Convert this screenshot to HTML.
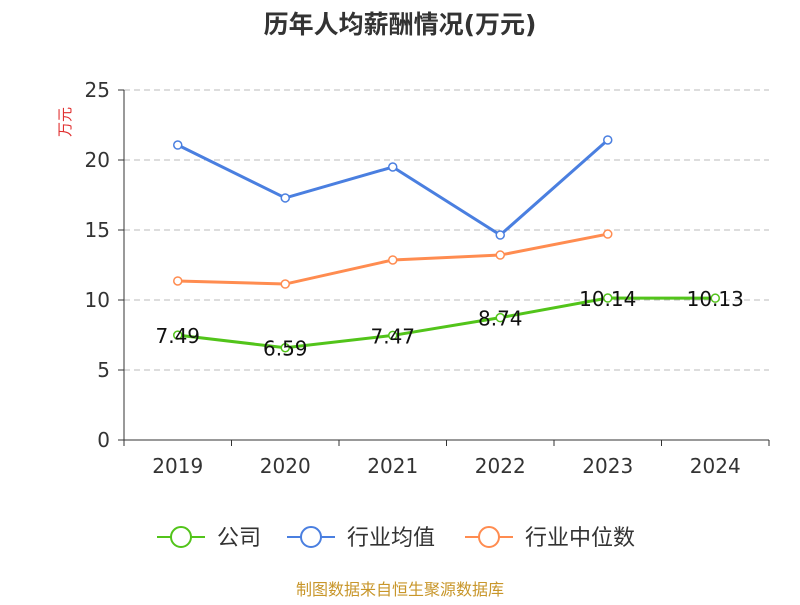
<!DOCTYPE html>
<html><head><meta charset="utf-8">
<style>
body{margin:0;background:#fff;}
svg text{font-family:"DejaVu Sans","Noto Sans CJK SC",sans-serif;}
</style></head>
<body>
<svg id="chart" width="800" height="600" xmlns="http://www.w3.org/2000/svg">
<text x="400" y="33" text-anchor="middle" font-size="25" font-weight="bold" fill="#333">历年人均薪酬情况(万元)</text>
<text x="0" y="0" transform="translate(70,122) rotate(-90)" text-anchor="middle" font-size="15" fill="#e03030">万元</text>
<g id="grid"></g><g id="axes"></g><g id="series"></g>
<g id="legend"></g>
<text x="400" y="595" text-anchor="middle" font-size="16" fill="#c8962a">制图数据来自恒生聚源数据库</text>
</svg>
<script>
const categories=["2019","2020","2021","2022","2023","2024"];
const companyValues=[7.49,6.59,7.47,8.74,10.14,10.13];
const companyLabels=["7.49","6.59","7.47","8.74","10.14","10.13"];
const industryAvg=[21.07,17.29,19.5,14.64,21.43,null];
const industryMedian=[11.36,11.14,12.86,13.21,14.71,null];
const yTicks=[0,5,10,15,20,25];
const NS="http://www.w3.org/2000/svg";
const x0=124,x1=769,yBase=440,yTop=90,yMax=25;
const band=(x1-x0)/categories.length;
const xs=i=>x0+band*(i+0.5);
const ys=v=>yBase-(v/yMax)*(yBase-yTop);
function mk(tag,attrs,parent){const e=document.createElementNS(NS,tag);for(const k in attrs)e.setAttribute(k,attrs[k]);parent.appendChild(e);return e;}
const grid=document.getElementById('grid'),axes=document.getElementById('axes'),ser=document.getElementById('series'),leg=document.getElementById('legend');
yTicks.forEach(t=>{
  if(t>0){const l=mk('line',{x1:x0,x2:x1,y1:ys(t),y2:ys(t),stroke:'#bbb','stroke-dasharray':'6,4'},grid);
  
  }
  const tk=mk('line',{x1:x0-6,x2:x0,y1:ys(t),y2:ys(t),stroke:'#333'},axes);
  
  
  const tx=mk('text',{x:x0-14,y:ys(t)+7,'text-anchor':'end','font-size':20,fill:'#333'},axes);tx.textContent=t;
  
  
});
let a=mk('line',{x1:x0,x2:x0,y1:yTop,y2:yBase,stroke:'#333'},axes);


a=mk('line',{x1:x0,x2:x1,y1:yBase,y2:yBase,stroke:'#333'},axes);


for(let i=0;i<=categories.length;i++){const t=mk('line',{x1:x0+band*i,x2:x0+band*i,y1:yBase,y2:yBase+6,stroke:'#333'},axes);

}
categories.forEach((c,i)=>{const t=mk('text',{x:xs(i),y:yBase+33,'text-anchor':'middle','font-size':20,fill:'#333'},axes);t.textContent=c;

});
function drawSeries(vals,color,name){
  const pts=[];vals.forEach((v,i)=>{if(v!=null)pts.push([xs(i),ys(v)]);});
  const p=mk('polyline',{points:pts.map(p=>p.join(',')).join(' '),fill:'none',stroke:color,'stroke-width':3},ser);
  
  
  pts.forEach(q=>{const c=mk('circle',{cx:q[0],cy:q[1],r:4,fill:'#fff',stroke:color,'stroke-width':1.5},ser);
  
  });
}
drawSeries(industryAvg,'#4a7fe0','industry-average');
drawSeries(industryMedian,'#ff8c50','industry-median');
drawSeries(companyValues,'#52c41a','company');
companyValues.forEach((v,i)=>{const t=mk('text',{x:xs(i),y:ys(v)+8,'text-anchor':'middle','font-size':20,fill:'#111'},ser);t.textContent=companyLabels[i];

});
const legendItems=[['公司','#52c41a',157],['行业均值','#4a7fe0',287],['行业中位数','#ff8c50',465]];
legendItems.forEach(([n,c,x])=>{
  const g=mk('g',{},leg);
  
  
  mk('line',{x1:x,x2:x+48,y1:537,y2:537,stroke:c,'stroke-width':2},g);
  mk('circle',{cx:x+24,cy:537,r:10,fill:'#fff',stroke:c,'stroke-width':2},g);
  const t=mk('text',{x:x+60,y:545,'font-size':22,fill:'#333'},g);t.textContent=n;
});
</script>
</body></html>
